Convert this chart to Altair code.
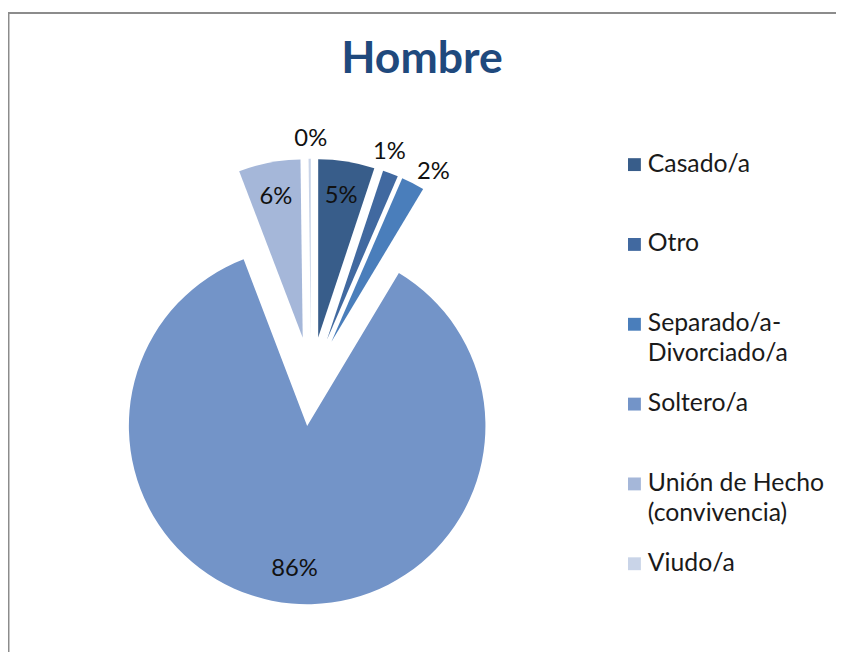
import altair as alt
import pandas as pd

# ---- data ----
categories = ["Casado/a", "Otro", "Separado/a-Divorciado/a", "Soltero/a",
              "Unión de Hecho (convivencia)", "Viudo/a"]
legend_labels = ["Casado/a", "Otro", "Separado/a-\nDivorciado/a", "Soltero/a",
                 "Unión de Hecho\n(convivencia)", "Viudo/a"]
values = [5.1, 1.4, 2.1, 85.6, 5.6, 0.2]
colors = ["#385d8a", "#4169a0", "#4a7ebb", "#7394c8", "#a5b7d9", "#c9d4e8"]
title_text = "Hombre"

# ---- layout ----
W, H = 836, 647
CX, CY = 306, 374      # pie centre (px within view)
R = 180                # pie radius
EXPLODE = 45           # explosion distance
FONT = "Lato"

df = pd.DataFrame({"cat": categories, "legend": legend_labels,
                   "v": values, "idx": list(range(len(values)))})

color = alt.Color("cat:N", scale=alt.Scale(domain=categories, range=colors), legend=None)

base = (
    alt.Chart(df)
    .transform_joinaggregate(total="sum(v)")
    .transform_window(cum="sum(v)", sort=[alt.SortField("idx")], frame=[None, 0])
    .transform_window(nextv="lead(v)", sort=[alt.SortField("idx")])
    .transform_calculate(
        small="datum.v < 3",
        nsmall="datum.nextv != null && datum.nextv < 3",
        start="2*PI*(datum.cum - datum.v)/datum.total",
        end="2*PI*datum.cum/datum.total",
        mid="(datum.start + datum.end)/2",
        lt="datum.small ? (datum.nsmall ? datum.start : datum.end) : datum.mid",
        px=f"{CX} + {EXPLODE}*sin(datum.mid)",
        py=f"{CY} - {EXPLODE}*cos(datum.mid)",
        lr="datum.small ? 200 : 145",
        lbl="format(datum.v, '.0f') + '%'",
    )
)

arcs = base.mark_arc(radius=R).encode(
    theta=alt.Theta("v:Q", stack=True),
    order=alt.Order("idx:Q"),
    x=alt.X("px:Q", scale=None, axis=None),
    y=alt.Y("py:Q", scale=None, axis=None),
    color=color,
)

labels = base.mark_text(font=FONT, fontSize=24, color="#111111").encode(
    x=alt.X("px:Q", scale=None, axis=None),
    y=alt.Y("py:Q", scale=None, axis=None),
    theta=alt.Theta("lt:Q", scale=None, stack=False),
    radius=alt.Radius("lr:Q", scale=None),
    text="lbl:N",
)

ly = alt.Y("cat:N", sort=categories,
           scale=alt.Scale(type="point", range=[155, 558], padding=0), axis=None)

leg_sq = alt.Chart(df).mark_square(size=169, opacity=1).encode(
    x=alt.value(632.5), y=ly, color=color)

leg_tx = alt.Chart(df).mark_text(
    align="left", baseline="line-top", dy=-15, lineBreak="\n", lineHeight=30,
    font=FONT, fontSize=25, color="#1a1a1a"
).encode(x=alt.value(646), y=ly, text="legend:N")

frame_df = pd.DataFrame({"k": [0]})
top_line = alt.Chart(frame_df).mark_rule(color="#8c8c8c", strokeWidth=2).encode(
    x=alt.value(0), x2=alt.value(W), y=alt.value(2))
left_line = alt.Chart(frame_df).mark_rule(color="#8c8c8c", strokeWidth=2).encode(
    x=alt.value(0.5), y=alt.value(1), y2=alt.value(H))

chart = (
    alt.layer(arcs, labels, leg_sq, leg_tx, top_line, left_line)
    .resolve_scale(x="independent", y="independent")
    .properties(
        width=W, height=H,
        autosize=alt.AutoSizeParams(type="none"),
        padding=0,
        background="white",
        title=alt.TitleParams(title_text, font=FONT, fontSize=45, fontWeight="bold",
                              color="#1f497d", anchor="middle", baseline="alphabetic",
                              offset=0, dy=108),
    )
    .configure_view(strokeWidth=0)
)

chart.save("out.html", embed_options={"renderer": "svg", "actions": False})
